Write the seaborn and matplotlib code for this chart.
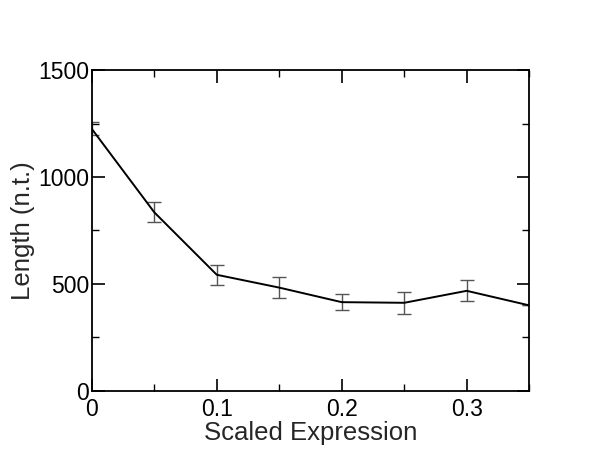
"""Transcript length versus scaled expression, with error bars."""

import matplotlib
matplotlib.use("Agg")
import matplotlib.pyplot as plt
import pandas as pd
import seaborn as sns
from matplotlib.ticker import MultipleLocator

expression = [0.0, 0.05, 0.10, 0.15, 0.20, 0.25, 0.30, 0.35]
length_nt = [1225, 835, 543, 483, 415, 412, 468, 400]
length_err = [30, 47, 48, 48, 38, 52, 49, 0]

df = pd.DataFrame({"expr": expression, "length": length_nt, "err": length_err})

sns.set_theme(style="ticks")
plt.rcParams["font.family"] = ["Liberation Sans", "DejaVu Sans"]

fig = plt.figure(figsize=(6.0, 4.61), dpi=100)
ax = fig.add_axes([0.153, 0.152, 0.729, 0.696])

ax.errorbar(df["expr"], df["length"], yerr=df["err"], fmt="none",
            ecolor="#555555", elinewidth=1.0, capsize=5, capthick=1.0, zorder=2)
sns.lineplot(data=df, x="expr", y="length", color="black", linewidth=1.4,
             ax=ax, zorder=3)

ax.set_xlim(0, 0.35)
ax.set_ylim(0, 1500)
ax.xaxis.set_major_locator(MultipleLocator(0.1))
ax.xaxis.set_minor_locator(MultipleLocator(0.05))
ax.yaxis.set_major_locator(MultipleLocator(500))
ax.yaxis.set_minor_locator(MultipleLocator(250))
ax.xaxis.set_major_formatter(plt.FuncFormatter(lambda v, _: "0" if v == 0 else f"{v:.1f}"))

for side in ["top", "right", "left", "bottom"]:
    ax.spines[side].set_visible(True)
    ax.spines[side].set_linewidth(1.3)
    ax.spines[side].set_color("black")

ax.tick_params(which="both", direction="in", top=True, right=True,
               labelsize=16.5, colors="black")
ax.tick_params(which="major", length=9, width=1.2)
ax.tick_params(which="minor", length=5, width=1.0)
ax.tick_params(axis="x", which="major", pad=5)
ax.tick_params(axis="y", which="major", pad=2)

ax.set_xlabel("Scaled Expression", fontsize=18.5, labelpad=0)
ax.set_ylabel("Length (n.t.)", fontsize=18.5, labelpad=2)

fig.savefig("out.png", dpi=100, facecolor="white")
